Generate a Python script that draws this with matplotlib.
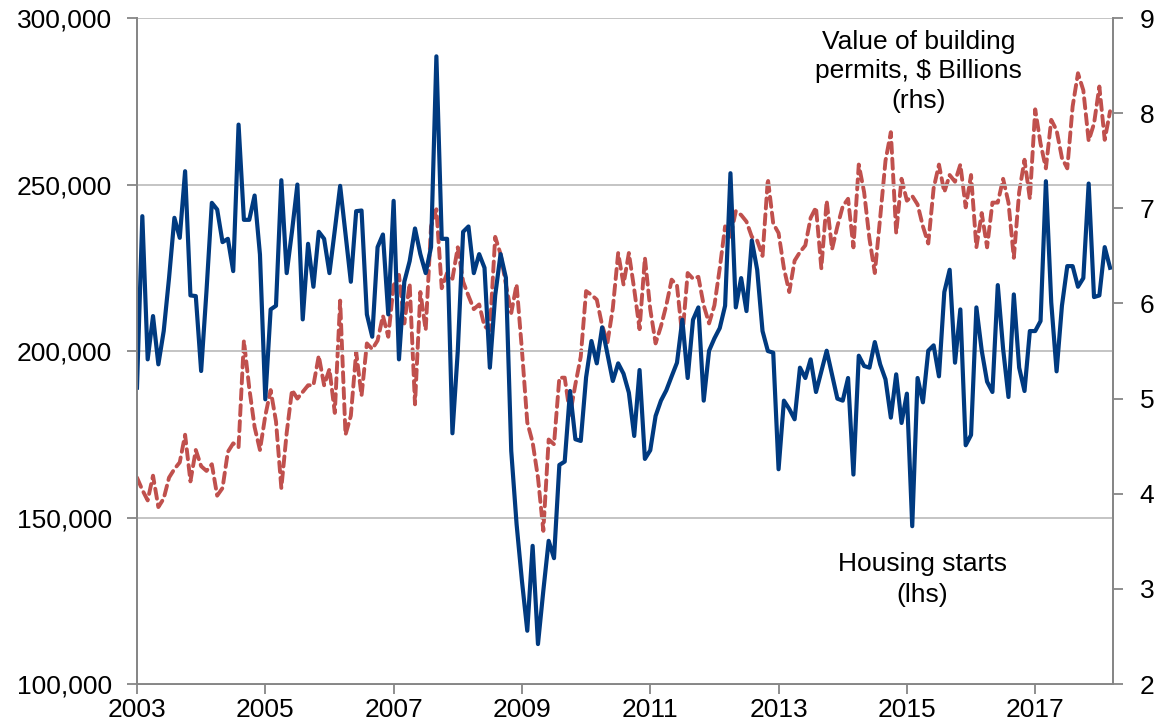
import matplotlib
matplotlib.use("Agg")
import matplotlib.pyplot as plt
from matplotlib.ticker import FuncFormatter
import numpy as np

plt.rcParams['font.family'] = ['Liberation Sans', 'DejaVu Sans']

# monthly, Jan 2003 .. Mar 2018
start_year = 2003

# housing starts (lhs), thousands of units
housing_starts = [
    189, 240.5, 197.5, 210.5, 196, 206, 222, 240, 234, 254, 216.7, 216.5,
    194, 218, 244.5, 242.5, 232.7, 233.7, 224, 268, 239.4, 239.4, 246.7, 229,
    185.5, 212.5, 213.6, 251.3, 223.4, 236, 250, 209.5, 232.2, 219.3, 235.8, 233.7,
    223.4, 236.3, 249.6, 235.3, 220.8, 242, 242.2, 211, 204.3, 231.2, 235, 211,
    245.1, 197.5, 220.8, 227, 236.8, 229.1, 223.4, 231.2, 288.5, 233.7, 233.7, 175.3,
    200, 235.8, 237.4, 223.4, 229.1, 225, 195, 216.7, 229.1, 222, 170, 148,
    131, 116, 141.5, 112, 128, 143, 137.8, 165.8, 166.8, 188, 173.5, 173,
    192.1, 203, 196.3, 207.1, 199, 191, 196.3, 193.2, 187.5, 174.5, 194.3, 167.6,
    170.2, 180.5, 185.1, 188.2, 192.4, 196.5, 209.4, 191.9, 209.4, 213.1, 185.1, 200.1,
    203.8, 206.9, 213.6, 253.4, 213.1, 221.9, 212, 233.2, 224.4, 206, 200, 199.5,
    164.5, 185.1, 182.6, 179.5, 195, 191.9, 197.5, 187.7, 193.9, 200.1, 192.9, 185.7,
    185.1, 191.9, 162.9, 198.6, 195.5, 195, 202.7, 196, 191.5, 180, 193, 178.4,
    187.2, 147.4, 191.9, 184.6, 200.1, 201.7, 192.4, 217.7, 224.4, 196.5, 212.5, 171.7,
    174.8, 213.1, 200.1, 190.8, 187.7, 219.8, 200.6, 186.2, 217, 195, 188, 206,
    206, 209, 251, 214.6, 193.9, 213.6, 225.5, 225.5, 219.3, 221.9, 250.3, 216.2,
    216.7, 231.2, 225,
]

# value of building permits (rhs), $ billions
permits = [
    4.17, 4.04, 3.93, 4.19, 3.86, 3.95, 4.17, 4.26, 4.33, 4.62, 4.13, 4.46,
    4.29, 4.24, 4.31, 3.98, 4.06, 4.44, 4.53, 4.49, 5.61, 5.11, 4.70, 4.46,
    4.82, 5.09, 4.76, 4.06, 4.64, 5.09, 5.00, 5.07, 5.14, 5.14, 5.45, 5.14,
    5.31, 4.85, 6.03, 4.62, 4.82, 5.49, 5.03, 5.58, 5.52, 5.61, 5.87, 5.65,
    6.19, 6.30, 5.79, 6.21, 4.94, 6.12, 5.72, 6.81, 6.99, 6.16, 6.32, 6.26,
    6.59, 6.23, 6.08, 5.94, 5.99, 5.76, 5.72, 6.70, 6.52, 6.20, 5.90, 6.20,
    5.51, 4.75, 4.54, 4.17, 3.61, 4.57, 4.52, 5.22, 5.22, 4.83, 5.15, 5.44,
    6.13, 6.09, 6.04, 5.77, 5.59, 5.95, 6.53, 6.20, 6.53, 6.15, 5.73, 6.48,
    5.94, 5.58, 5.76, 5.98, 6.25, 6.19, 5.65, 6.32, 6.26, 6.28, 5.98, 5.79,
    5.98, 6.37, 6.81, 6.70, 6.97, 6.93, 6.86, 6.70, 6.66, 6.50, 7.31, 6.84,
    6.74, 6.37, 6.12, 6.45, 6.54, 6.61, 6.90, 7.01, 6.37, 7.08, 6.57, 6.81,
    7.02, 7.10, 6.59, 7.46, 7.17, 6.68, 6.32, 6.90, 7.50, 7.80, 6.74, 7.31,
    7.08, 7.13, 7.04, 6.81, 6.63, 7.21, 7.46, 7.17, 7.35, 7.28, 7.46, 7.01,
    7.35, 6.59, 6.95, 6.59, 7.06, 7.06, 7.31, 7.06, 6.48, 7.17, 7.51, 7.10,
    8.04, 7.68, 7.42, 7.93, 7.82, 7.53, 7.42, 8.07, 8.42, 8.24, 7.71, 7.89,
    8.28, 7.72, 8.02,
]

year_ticks = [2003, 2005, 2007, 2009, 2011, 2013, 2015, 2017]

x = start_year + np.arange(len(housing_starts)) / 12.0
starts = np.array(housing_starts) * 1000

fig = plt.figure(figsize=(11.54, 7.27), dpi=100)
ax = fig.add_axes([0.1187, 0.0591, 0.846, 0.9161])
ax2 = ax.twinx()

grey = '#868686'

ax2.plot(x, permits, color='#C0504D', lw=2.8, dashes=(2.6, 1.5),
         dash_capstyle='round')
ax.plot(x, starts, color='#003A80', lw=3.0, solid_joinstyle='round')

# blue series sits above the red one
ax.set_zorder(ax2.get_zorder() + 1)
ax.patch.set_visible(False)

ax.set_xlim(2003, 2003 + 182.6 / 12)
ax.set_ylim(100000, 300000)
ax.set_yticks(np.arange(100000, 300001, 50000))
ax.yaxis.set_major_formatter(FuncFormatter(lambda v, p: f"{int(v):,}"))
ax.set_xticks(year_ticks)
ax.set_xticklabels([str(y) for y in year_ticks])
ax.grid(axis='y', color='#BFBFBF', lw=1.3)
ax.set_axisbelow(True)

ax2.set_ylim(2, 9)
ax2.set_yticks(range(2, 10))

for a in (ax, ax2):
    a.spines['top'].set_visible(False)
    for s in ('left', 'bottom', 'right'):
        a.spines[s].set_color(grey)
        a.spines[s].set_linewidth(1.3)
    a.tick_params(colors=grey, labelcolor='black', labelsize=19,
                  length=7, width=1.3, direction='out')
ax.tick_params(axis='x', pad=3)
ax.tick_params(axis='y', pad=11)
ax2.tick_params(axis='y', pad=12)

ax.text(0.796, 0.902, "Value of building\npermits, $ Billions\n(rhs)",
        transform=fig.transFigure, ha='center', va='center', fontsize=19,
        linespacing=1.3)
ax.text(0.799, 0.203, "Housing starts\n(lhs)", transform=fig.transFigure,
        ha='center', va='center', fontsize=19, linespacing=1.35)

fig.savefig("out.png", dpi=100)
